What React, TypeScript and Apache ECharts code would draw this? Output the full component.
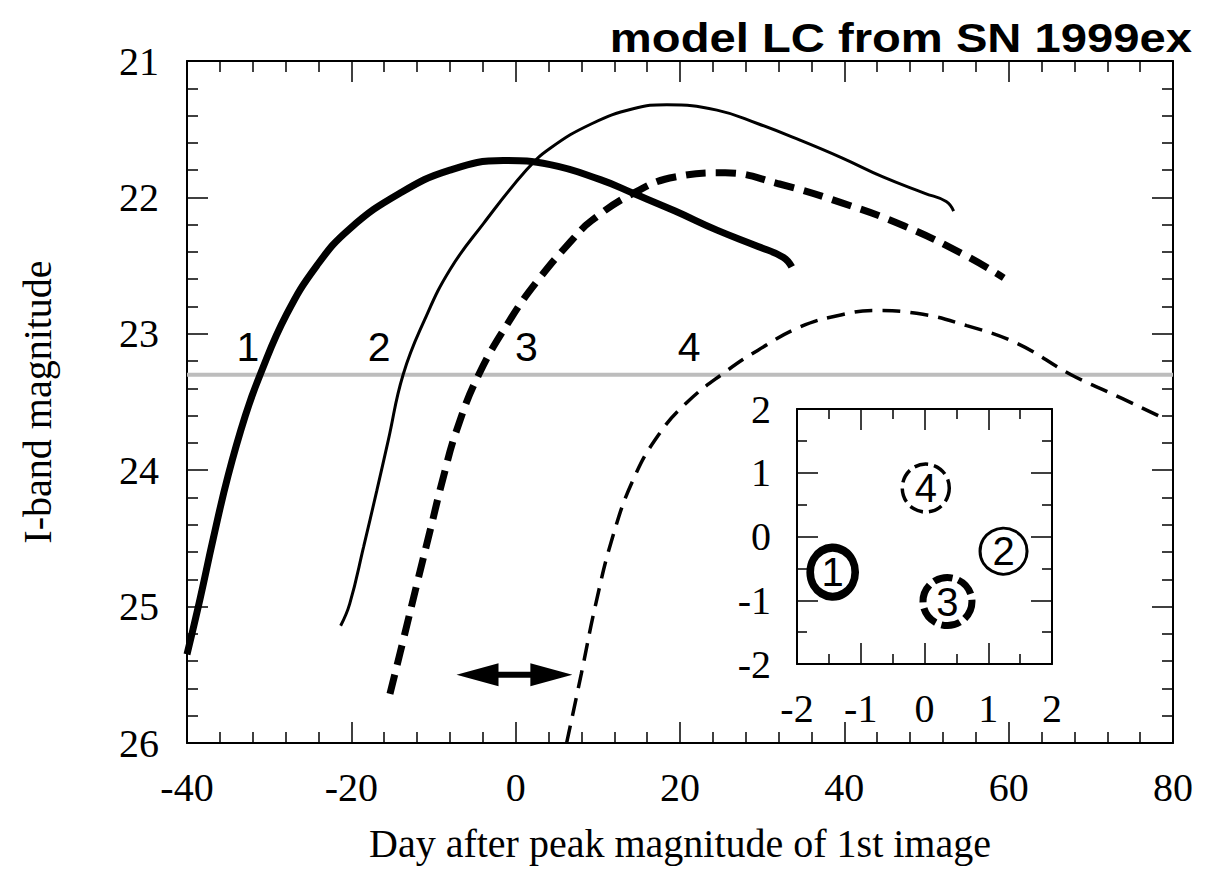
import React, { useEffect, useRef } from "react";
import * as echarts from "echarts";

// ---------- data ----------
const titleText = "model LC from SN 1999ex";
const xAxisTitle = "Day after peak magnitude of 1st image";
const yAxisTitle = "I-band magnitude";

const xMin = -40;
const xMax = 80;
const xStep = 20;
const yMin = 21;
const yMax = 26;
const yStep = 1;

// image 1: thick solid
const curve1: [number, number][] = [
  [-40, 25.35], [-38.4, 24.94], [-36.8, 24.5], [-35.0, 24.04], [-32.9, 23.6],
  [-31.1, 23.3], [-27.9, 22.86], [-24.2, 22.5], [-20.2, 22.23], [-14.1, 21.97],
  [-8.0, 21.8], [-1.5, 21.73], [4.2, 21.76], [10.3, 21.87], [14.3, 21.97],
  [19.4, 22.1], [24.5, 22.24], [29.5, 22.36], [32.6, 22.44], [33.6, 22.51],
];
// image 2: thin solid
const curve2: [number, number][] = [
  [-21.3, 25.14], [-20.2, 24.98], [-18.5, 24.56], [-16.9, 24.15], [-15.5, 23.78],
  [-13.7, 23.3], [-11.1, 22.9], [-8.0, 22.53], [-3.9, 22.19], [1.3, 21.8],
  [4.2, 21.64], [9.25, 21.46], [14.3, 21.35], [18.4, 21.32], [24.5, 21.36],
  [29.5, 21.46], [34.6, 21.58], [39.7, 21.71], [44.7, 21.85], [49.8, 21.97],
  [52.4, 22.03], [53.3, 22.1],
];
// image 3: thick dashed
const curve3: [number, number][] = [
  [-15.3, 25.64], [-13.7, 25.25], [-12.0, 24.83], [-10.4, 24.44], [-8.8, 24.05],
  [-7.2, 23.71], [-4.5, 23.3], [-0.5, 22.88], [2.8, 22.6], [6.9, 22.31],
  [9.25, 22.17], [14.3, 21.97], [19.4, 21.85], [25.5, 21.82], [32.0, 21.9],
  [39.7, 22.04], [47.3, 22.21], [54.9, 22.43], [59.4, 22.59],
];
// image 4: thin dashed
const curve4: [number, number][] = [
  [6.2, 26.0], [8.0, 25.49], [9.75, 24.98], [11.8, 24.49], [14.3, 24.07],
  [17.4, 23.74], [20.9, 23.5], [25.5, 23.28], [29.5, 23.12], [34.6, 22.95],
  [39.7, 22.86], [43.7, 22.83], [48.8, 22.85], [54.9, 22.94], [61.0, 23.07],
  [67.6, 23.3], [72.6, 23.44], [78.2, 23.6],
];

const detectionLimit = 23.3;

const curveLabels = ["1", "2", "3", "4"];
const curveLabelX = [-32.6, -16.6, 1.3, 21.1];
const curveLabelY = [23.1, 23.1, 23.1, 23.1];

// double arrow: [x start, x end, magnitude]
const delayArrow = [-7.2, 6.9, 25.5];

// inset: image positions
const insetMin = -2;
const insetMax = 2;
const insetLabels = ["1", "2", "3", "4"];
const insetX = [-1.44, 1.24, 0.36, 0.02];
const insetY = [-0.56, -0.23, -1.02, 0.76];

// ---------- styles ----------
const SERIF = '"Liberation Serif", "Times New Roman", Times, serif';
const SANS = '"Liberation Sans", Arial, Helvetica, sans-serif';

const curveStyles = [
  { width: 7, type: "solid" as any },
  { width: 3, type: "solid" as any },
  { width: 7, type: [20, 10] as any },
  { width: 3.5, type: [18, 10] as any },
];

const insetStyles = [
  { size: [45, 49], bw: 8, type: "solid" as any },
  { size: [47, 46], bw: 3, type: "solid" as any },
  { size: [49, 48], bw: 7, type: [19, 6] as any },
  { size: [47, 48], bw: 3.5, type: [14, 6] as any },
];

function axisBase(minorSplit: number, majorLen: number, minorLen: number) {
  return {
    type: "value" as const,
    axisLine: { show: true, onZero: false, lineStyle: { color: "#000", width: 2 } },
    axisTick: { show: true, inside: true, length: majorLen, lineStyle: { color: "#000", width: 1.5 } },
    minorTick: { show: true, splitNumber: minorSplit, length: minorLen, lineStyle: { color: "#000", width: 1.5 } },
    splitLine: { show: false },
    minorSplitLine: { show: false },
  };
}

export default function App() {
  const ref = useRef<HTMLDivElement>(null);

  useEffect(() => {
    if (!ref.current) return;
    const chart = echarts.init(ref.current, null, { renderer: "svg" });

    const labelStyle = { fontFamily: SERIF, fontSize: 40, color: "#000" };

    const option: any = {
      animation: false,
      backgroundColor: "#fff",
      grid: [
        { left: 187, top: 61, width: 986, height: 682 },
        { left: 797, top: 409, width: 255, height: 255 },
      ],
      xAxis: [
        {
          ...axisBase(5, 21, 11),
          gridIndex: 0, position: "bottom", min: xMin, max: xMax, interval: xStep,
          axisLabel: { ...labelStyle, margin: 24 },
          name: xAxisTitle, nameLocation: "middle", nameGap: 80,
          nameTextStyle: { fontFamily: SERIF, fontSize: 40, color: "#000" },
        },
        {
          ...axisBase(5, 21, 11),
          gridIndex: 0, position: "top", min: xMin, max: xMax, interval: xStep,
          axisLabel: { show: false },
        },
        {
          ...axisBase(2, 21, 10),
          gridIndex: 1, position: "bottom", min: insetMin, max: insetMax, interval: 1,
          axisLabel: { ...labelStyle, margin: 24 },
        },
        {
          ...axisBase(2, 21, 10),
          gridIndex: 1, position: "top", min: insetMin, max: insetMax, interval: 1,
          axisLabel: { show: false },
        },
      ],
      yAxis: [
        {
          ...axisBase(5, 21, 11),
          gridIndex: 0, position: "left", inverse: true, min: yMin, max: yMax, interval: yStep,
          axisLabel: { ...labelStyle, margin: 28 },
          name: yAxisTitle, nameLocation: "middle", nameGap: 130, nameRotate: 90,
          nameTextStyle: { fontFamily: SERIF, fontSize: 40, color: "#000" },
        },
        {
          ...axisBase(5, 21, 11),
          gridIndex: 0, position: "right", inverse: true, min: yMin, max: yMax, interval: yStep,
          axisLabel: { show: false },
        },
        {
          ...axisBase(2, 21, 10),
          gridIndex: 1, position: "left", min: insetMin, max: insetMax, interval: 1,
          axisLabel: { ...labelStyle, margin: 26 },
        },
        {
          ...axisBase(2, 21, 10),
          gridIndex: 1, position: "right", min: insetMin, max: insetMax, interval: 1,
          axisLabel: { show: false },
        },
      ],
      graphic: [
        {
          type: "text",
          x: 1192,
          y: 38,
          scaleX: 1.18,
          z: 100,
          style: {
            text: titleText,
            fontFamily: SANS,
            fontWeight: "bold",
            fontSize: 40,
            fill: "#000",
            align: "right",
            verticalAlign: "middle",
          },
        },
      ],
      series: [
        {
          type: "line",
          xAxisIndex: 0,
          yAxisIndex: 0,
          data: [[xMin, detectionLimit], [xMax, detectionLimit]],
          symbol: "none",
          lineStyle: { color: "#bdbdbd", width: 4 },
          z: 1,
          silent: true,
        },
        ...[curve1, curve2, curve3, curve4].map((c, i) => ({
          type: "line",
          xAxisIndex: 0,
          yAxisIndex: 0,
          data: c,
          symbol: "none",
          smooth: 0.45,
          clip: true,
          lineStyle: { color: "#000", width: curveStyles[i].width, type: curveStyles[i].type, cap: "butt" },
          z: 3,
        })),
        {
          type: "scatter",
          xAxisIndex: 0,
          yAxisIndex: 0,
          symbolSize: 1,
          itemStyle: { color: "rgba(0,0,0,0)", opacity: 1 },
          data: curveLabels.map((t, i) => ({ name: t, value: [curveLabelX[i], curveLabelY[i]] })),
          label: {
            show: true,
            position: "inside",
            formatter: (p: any) => p.name,
            fontFamily: SANS,
            fontSize: 41,
            color: "#000",
          },
          z: 4,
        },
        {
          type: "custom",
          xAxisIndex: 0,
          yAxisIndex: 0,
          data: [delayArrow],
          encode: { x: [0, 1], y: 2 },
          renderItem: (_params: any, api: any) => {
            const p1 = api.coord([api.value(0), api.value(2)]);
            const p2 = api.coord([api.value(1), api.value(2)]);
            const hl = 42;
            const hh = 11.5;
            const sh = 3;
            const y = p1[1];
            return {
              type: "polygon",
              shape: {
                points: [
                  [p1[0], y], [p1[0] + hl, y - hh], [p1[0] + hl, y - sh],
                  [p2[0] - hl, y - sh], [p2[0] - hl, y - hh], [p2[0], y],
                  [p2[0] - hl, y + hh], [p2[0] - hl, y + sh], [p1[0] + hl, y + sh],
                  [p1[0] + hl, y + hh],
                ],
              },
              style: { fill: "#000" },
            };
          },
          z: 5,
        },
        {
          type: "scatter",
          xAxisIndex: 2,
          yAxisIndex: 2,
          symbol: "circle",
          data: insetLabels.map((t, i) => ({
            name: t,
            value: [insetX[i], insetY[i]],
            symbolSize: insetStyles[i].size,
            itemStyle: {
              color: "rgba(255,255,255,0)",
              borderColor: "#000",
              borderWidth: insetStyles[i].bw,
              borderType: insetStyles[i].type,
              opacity: 1,
            },
          })),
          label: {
            show: true,
            position: "inside",
            formatter: (p: any) => p.name,
            fontFamily: SANS,
            fontSize: 40,
            color: "#000",
          },
          z: 6,
        },
      ],
    };

    chart.setOption(option);
    return () => chart.dispose();
  }, []);

  return (
    <div
      ref={ref}
      style={{ position: "absolute", left: 0, top: 0, width: 1216, height: 876, background: "#fff" }}
    />
  );
}
